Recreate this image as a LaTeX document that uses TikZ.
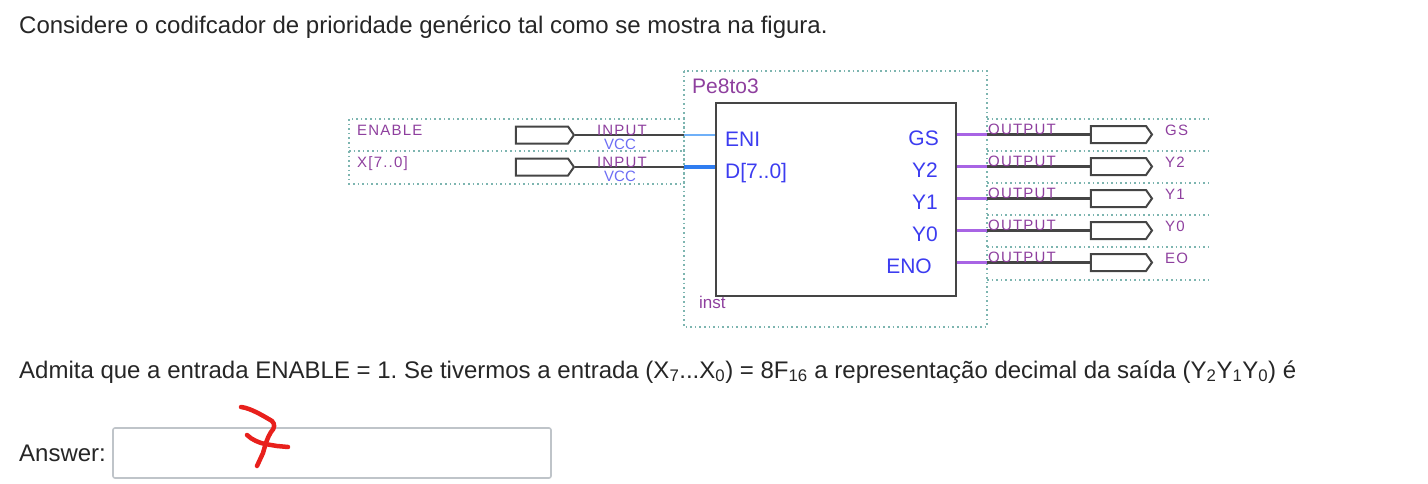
\documentclass[tikz,border=0pt]{standalone}
\usepackage{fontspec}
\setmainfont{Liberation Sans}
\newfontfamily\pinfont[LetterSpace=8]{Liberation Sans}
\usetikzlibrary{shapes.symbols}
\definecolor{pinpurple}{HTML}{8E3F9E}
\definecolor{portblue}{HTML}{3C3CF0}
\definecolor{gridteal}{HTML}{7DB5B0}
\definecolor{wireblue}{HTML}{6FB0F8}
\definecolor{busblue}{HTML}{2F7DF0}
\definecolor{wirepurple}{HTML}{A864E4}
\definecolor{wiredark}{HTML}{454545}
\definecolor{boxgray}{HTML}{BFC4C9}
\definecolor{inkred}{HTML}{E8201C}
\frenchspacing

\begin{document}
\begin{tikzpicture}[x=1pt,y=-1pt,
	para/.style = {anchor=base west,inner sep=0pt,text=black!85,
		font=\fontsize{24}{28}\selectfont},
	pinbox/.style = {draw=wiredark,line width=2pt,fill=white,signal,signal to=east,
		signal pointer angle=110,inner sep=0pt,minimum height=17pt},
	inpin/.style = {pinbox,minimum width=58pt},
	outpin/.style = {pinbox,minimum width=61pt},
	pinname/.style = {anchor=base west,inner sep=0pt,text=pinpurple,
		font=\fontsize{15}{18}\pinfont},
	pintype/.style = {anchor=base,inner sep=0pt,text=pinpurple,
		font=\fontsize{15}{18}\pinfont},
	vcc/.style = {anchor=base,inner sep=0pt,text=portblue!75,
		font=\fontsize{15}{18}\selectfont},
	portleft/.style = {anchor=base west,inner sep=0pt,text=portblue,
		font=\fontsize{21}{25}\selectfont},
	portright/.style = {anchor=base east,inner sep=0pt,text=portblue,
		font=\fontsize{21}{25}\selectfont},
	grid/.style = {gridteal,line width=1.6pt,dash pattern=on 1.6pt off 3pt},
	wire/.style = {wiredark,line width=2.2pt},
	stub/.style = {wirepurple,line width=2.2pt},
	ink/.style = {inkred,line width=4.5pt,line cap=round,line join=round}]
	
	\useasboundingbox (0,0) rectangle (1428,483);
	
	% Question text
	\node[para] (question) at (19,33) {Considere o codifcador de prioridade genérico tal como se mostra na figura.};
	\node[para] (statement) at (19,378) {Admita que a entrada ENABLE = 1. Se tivermos a entrada (X\textsubscript{7}...X\textsubscript{0}) = 8F\textsubscript{16} a representação decimal da saída (Y\textsubscript{2}Y\textsubscript{1}Y\textsubscript{0}) é};
	\node[para] (answer) at (19,461) {Answer:};
	\node[draw=boxgray,line width=1.6pt,rounded corners=2pt,minimum width=438pt,minimum height=50pt,inner sep=0pt] (answerbox) at (332,453) {};
	
	% Dotted frames
	\draw[grid] (684,71) rectangle (987,327);
	\draw[grid] (349,119) rectangle (684,184);
	\draw[grid] (349,151) -- (684,151);
	\draw[grid] (987,119) -- (1209,119);
	\draw[grid] (987,151) -- (1209,151);
	\draw[grid] (987,183) -- (1209,183);
	\draw[grid] (987,215) -- (1209,215);
	\draw[grid] (987,247) -- (1209,247);
	\draw[grid] (987,280) -- (1209,280);
	
	% Block
	\node[draw=wiredark,line width=2.2pt,minimum width=240pt,minimum height=193pt,inner sep=0pt] (block) at (836,199.5) {};
	\node[anchor=base west,inner sep=0pt,text=pinpurple,font=\fontsize{21}{25}\selectfont] (blockname) at (692,93) {Pe8to3};
	\node[anchor=base west,inner sep=0pt,text=pinpurple,font=\fontsize{17}{20}\selectfont] (inst) at (699,308) {inst};
	
	% Block ports
	\node[portleft] (ENI) at (725,146) {ENI};
	\node[portleft] (D) at (725,178) {D[7..0]};
	\node[portright] (GS) at (939,145) {GS};
	\node[portright] (Y2) at (938,177) {Y2};
	\node[portright] (Y1) at (938,209) {Y1};
	\node[portright] (Y0) at (938,241) {Y0};
	\node[portright] (ENO) at (932,273) {ENO};
	
	% Input pins
	\node[inpin] (pinEnable) at (542,135) {};
	\node[inpin] (pinX) at (542,167) {};
	\coordinate (edgeEnable) at (684,135);
	\coordinate (edgeX) at (684,167);
	\coordinate (blockEnable) at (block.west |- edgeEnable);
	\coordinate (blockX) at (block.west |- edgeX);
	\draw[wire] (pinEnable.east) -- (edgeEnable);
	\draw[wire] (pinX.east) -- (edgeX);
	\draw[wireblue,line width=2.2pt] (edgeEnable) -- (blockEnable);
	\draw[busblue,line width=4.5pt] (edgeX) -- (blockX);
	
	\node[pinname] (nameEnable) at (357,135) {ENABLE};
	\node[pinname] (nameX) at (357,167) {X[7..0]};
	\node[pintype] (typeEnable) at (622,135) {INPUT};
	\node[pintype] (typeX) at (622,167) {INPUT};
	\node[vcc] (vccEnable) at (620,149.5) {VCC};
	\node[vcc] (vccX) at (620,181.5) {VCC};
	
	% Output pins
	\node[outpin] (pinGS) at (1118.5,134.5) {};
	\node[outpin] (pinY2) at (1118.5,166.5) {};
	\node[outpin] (pinY1) at (1118.5,198.5) {};
	\node[outpin] (pinY0) at (1118.5,230.5) {};
	\node[outpin] (pinEO) at (1118.5,262.5) {};
	
	\coordinate (edgeGS) at (987,134.5);
	\coordinate (edgeY2) at (987,166.5);
	\coordinate (edgeY1) at (987,198.5);
	\coordinate (edgeY0) at (987,230.5);
	\coordinate (edgeEO) at (987,262.5);
	
	\draw[stub] (block.east |- edgeGS) -- (edgeGS);
	\draw[stub] (block.east |- edgeY2) -- (edgeY2);
	\draw[stub] (block.east |- edgeY1) -- (edgeY1);
	\draw[stub] (block.east |- edgeY0) -- (edgeY0);
	\draw[stub] (block.east |- edgeEO) -- (edgeEO);
	
	\draw[wire] (edgeGS) -- (pinGS.west);
	\draw[wire] (edgeY2) -- (pinY2.west);
	\draw[wire] (edgeY1) -- (pinY1.west);
	\draw[wire] (edgeY0) -- (pinY0.west);
	\draw[wire] (edgeEO) -- (pinEO.west);
	
	\node[pinname] (typeGS) at (988,134) {OUTPUT};
	\node[pinname] (typeY2) at (988,166) {OUTPUT};
	\node[pinname] (typeY1) at (988,198) {OUTPUT};
	\node[pinname] (typeY0) at (988,230) {OUTPUT};
	\node[pinname] (typeEO) at (988,262) {OUTPUT};
	
	\node[pinname] (nameGS) at (1165,135) {GS};
	\node[pinname] (nameY2) at (1165,167) {Y2};
	\node[pinname] (nameY1) at (1165,199) {Y1};
	\node[pinname] (nameY0) at (1165,231) {Y0};
	\node[pinname] (nameEO) at (1165,263) {EO};
	
	% Handwritten answer
	\draw[ink] (241,407) .. controls (250,408) and (262,415) .. (272,421)
		.. controls (275,424) and (275,428) .. (271,432)
		.. controls (267,438) and (265,446) .. (263,453) -- (257,466);
	\draw[ink] (247,435) .. controls (252,440) and (260,443) .. (265,444) -- (277,446) -- (288,447);
	
\end{tikzpicture}
\end{document}
